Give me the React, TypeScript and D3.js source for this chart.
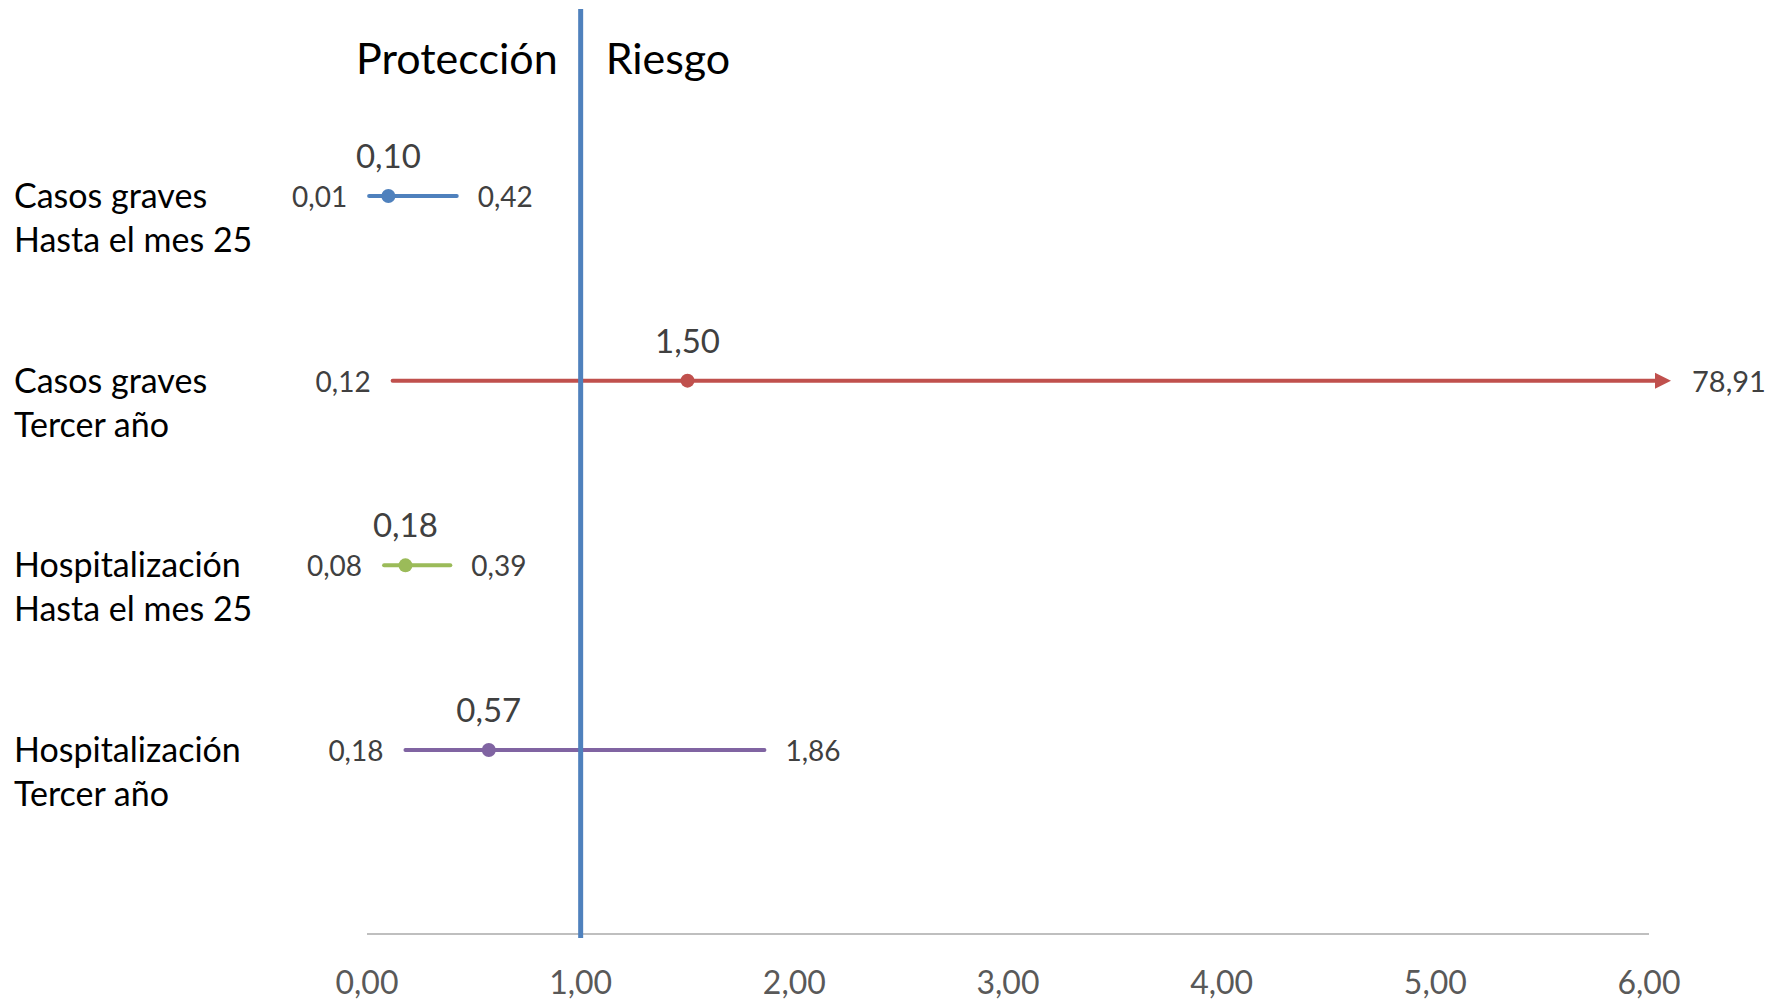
import React from "react";
import * as d3 from "d3";

const W = 1776;
const H = 1001;

// categories (two lines each) and odds ratios with 95% CI
const categories = ["cg25", "cg3", "h25", "h3"];
const labelLine1 = ["Casos graves", "Casos graves", "Hospitalización", "Hospitalización"];
const labelLine2 = ["Hasta el mes 25", "Tercer año", "Hasta el mes 25", "Tercer año"];
const estimates = [0.1, 1.5, 0.18, 0.57];
const lowers = [0.01, 0.12, 0.08, 0.18];
const uppers = [0.42, 78.91, 0.39, 1.86];
const colors = ["#4F81BD", "#C0504D", "#9BBB59", "#8064A2"];
const xTicks = [0, 1, 2, 3, 4, 5, 6];

const FONT = "Lato, 'Open Sans', sans-serif";

const locale = d3.formatLocale({ decimal: ",", thousands: ".", grouping: [3], currency: ["", "€"] });
const fmt = locale.format(".2f");

export default function App() {
  const x = d3.scaleLinear().domain([0, 6]).range([367, 1649]);
  const y = d3.scalePoint<string>().domain(categories).range([196, 750]);
  const xMax = x.range()[1];
  const axisY = 934;

  return (
    <svg
      width={W}
      height={H}
      style={{ position: "absolute", left: 0, top: 0, background: "#fff" }}
      fontFamily={FONT}
    >
      {/* headings */}
      <text x={x(1) - 23} y={74} textAnchor="end" fontSize={43} fill="#000">
        Protección
      </text>
      <text x={x(1) + 25} y={74} fontSize={43} fill="#000">
        Riesgo
      </text>

      {/* x axis */}
      <line x1={x(0)} x2={xMax} y1={axisY} y2={axisY} stroke="#BFBFBF" strokeWidth={2} />
      {xTicks.map((t) => (
        <text key={t} x={x(t)} y={994} textAnchor="middle" fontSize={32} fill="#595959">
          {fmt(t)}
        </text>
      ))}

      {/* rows */}
      {categories.map((c, i) => {
        const cy = y(c) as number;
        const over = uppers[i] > 6;
        const xEnd = over ? xMax + 22 : x(uppers[i]);
        const lineEnd = over ? xEnd - 14 : xEnd;
        return (
          <g key={c}>
            <text x={14} y={cy + 12} fontSize={34} fill="#000">
              {labelLine1[i]}
            </text>
            <text x={14} y={cy + 56} fontSize={34} fill="#000">
              {labelLine2[i]}
            </text>
            <line
              x1={x(lowers[i])}
              x2={lineEnd}
              y1={cy}
              y2={cy}
              stroke={colors[i]}
              strokeWidth={4}
              strokeLinecap="round"
            />
            {over && (
              <path
                d={`M${xEnd},${cy} L${xEnd - 16},${cy - 8} L${xEnd - 16},${cy + 8} Z`}
                fill={colors[i]}
              />
            )}
            <circle cx={x(estimates[i])} cy={cy} r={7} fill={colors[i]} />
            <text
              x={x(lowers[i]) - 22}
              y={cy + 11}
              textAnchor="end"
              fontSize={28}
              fill="#404040"
            >
              {fmt(lowers[i])}
            </text>
            <text x={xEnd + 21} y={cy + 11} fontSize={over ? 29 : 28} fill="#404040">
              {fmt(uppers[i])}
            </text>
            <text
              x={x(estimates[i])}
              y={cy - 28}
              textAnchor="middle"
              fontSize={33}
              fill="#404040"
            >
              {fmt(estimates[i])}
            </text>
          </g>
        );
      })}

      {/* reference line at 1 */}
      <line x1={x(1)} x2={x(1)} y1={9} y2={938} stroke="#4F81BD" strokeWidth={5} />
    </svg>
  );
}
